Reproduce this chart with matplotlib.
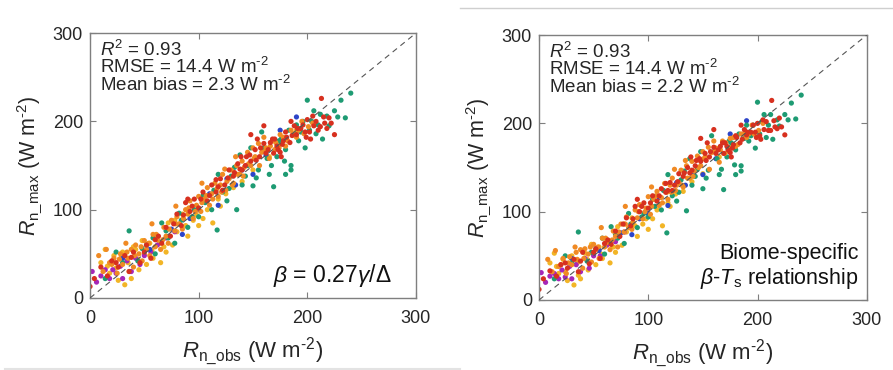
import matplotlib.pyplot as plt
from matplotlib.lines import Line2D

plt.rcParams['font.family'] = ['Liberation Sans', 'DejaVu Sans']
plt.rcParams['mathtext.fontset'] = 'custom'
plt.rcParams['mathtext.rm'] = 'Liberation Sans'
plt.rcParams['mathtext.it'] = 'Liberation Sans:italic'

# Rn_obs vs Rn_max, grouped by dot colour.
# *_a = left panel (beta = 0.27 gamma/Delta), *_b = right panel (biome-specific)
orange_obs = [8, 12, 15, 18, 22, 25, 28, 30, 33, 35, 38, 40, 42, 45, 48, 50, 52, 55, 58, 60,
              62, 65, 68, 70, 72, 75, 78, 80, 82, 85, 88, 90, 92, 95, 98, 100, 102, 105, 108, 110,
              112, 115, 118, 120, 122, 125, 128, 130, 132, 135, 138, 140, 142, 145, 148, 150, 152, 155, 158, 160,
              162, 165, 168, 170, 175, 180, 185, 190, 195, 205,
              20, 27, 34, 41, 47, 54, 61, 67, 73, 79, 86, 91, 97, 103, 107, 113, 117, 121, 126, 131,
              136, 141, 146, 151, 156, 161, 166, 171, 174, 178, 182, 187, 192, 197, 201, 134, 124, 103, 79, 57]
orange_max_a = [48, 30, 55, 40, 45, 28, 50, 38, 62, 45, 55, 35, 60, 50, 42, 65, 55, 48, 72, 58,
                66, 55, 80, 70, 62, 88, 76, 92, 84, 78, 100, 95, 110, 90, 105, 115, 98, 112, 125, 105,
                118, 130, 115, 128, 140, 122, 135, 145, 130, 150, 140, 155, 148, 165, 150, 170, 160, 175, 165, 182,
                170, 158, 178, 168, 185, 172, 190, 182, 200, 198,
                38, 44, 52, 48, 58, 62, 72, 66, 78, 84, 90, 102, 98, 108, 116, 112, 124, 120, 132, 128,
                140, 138, 152, 158, 150, 166, 172, 176, 170, 182, 178, 186, 190, 186, 194, 160, 146, 130, 104, 84]
orange_max_b = [46, 32, 56, 38, 47, 30, 49, 40, 60, 46, 57, 36, 58, 52, 43, 63, 57, 47, 70, 60,
                65, 57, 78, 72, 60, 86, 77, 94, 82, 80, 102, 93, 108, 92, 104, 117, 97, 114, 123, 107,
                116, 132, 114, 130, 138, 124, 133, 147, 128, 152, 138, 157, 146, 163, 152, 168, 162, 173, 167, 180,
                172, 156, 180, 166, 183, 174, 188, 184, 198, 200,
                40, 42, 54, 47, 60, 60, 70, 68, 77, 86, 88, 100, 100, 106, 118, 110, 122, 122, 130, 130,
                138, 140, 150, 160, 148, 168, 170, 178, 168, 184, 176, 188, 188, 188, 192, 158, 148, 128, 106, 82]

red_obs = [0, 4, 10, 16, 20, 26, 32, 36, 40, 46, 52, 56, 60, 66, 70, 74, 80, 84, 88, 92,
           96, 100, 104, 108, 112, 116, 120, 124, 128, 132, 136, 140, 144, 148, 152, 156, 160, 164, 168, 172,
           175, 178, 180, 184, 188, 190, 194, 198, 200, 203, 206, 210, 213, 215, 218, 222, 225, 148, 160, 176,
           24, 38, 50, 63, 77, 86, 94, 102, 110, 118, 122, 127, 133, 138, 143, 147, 153, 157, 162, 166,
           170, 173, 177, 181, 186, 191, 196, 202, 208, 212, 216, 220, 205, 199, 185, 169, 154, 139, 116, 90]
red_max_a = [13, 22, 35, 25, 42, 35, 48, 30, 52, 40, 60, 45, 66, 62, 80, 70, 95, 82, 108, 98,
             112, 102, 120, 110, 128, 120, 135, 128, 145, 138, 152, 145, 160, 155, 168, 160, 175, 168, 180, 172,
             165, 178, 188, 176, 195, 185, 192, 188, 202, 180, 195, 190, 226, 205, 192, 198, 185, 185, 195, 160,
             40, 46, 52, 70, 84, 94, 104, 112, 116, 126, 122, 136, 142, 146, 150, 162, 156, 170, 164, 176,
             180, 168, 174, 182, 184, 192, 196, 188, 200, 194, 198, 204, 206, 182, 200, 164, 180, 160, 134, 112]
red_max_b = [12, 24, 33, 27, 40, 36, 46, 32, 54, 41, 58, 47, 64, 63, 78, 72, 93, 84, 106, 100,
             110, 104, 118, 112, 126, 122, 133, 130, 143, 140, 150, 147, 158, 157, 166, 162, 173, 170, 178, 174,
             167, 176, 186, 178, 193, 187, 190, 190, 200, 182, 193, 192, 226, 203, 194, 196, 187, 183, 193, 162,
             42, 44, 54, 68, 86, 92, 106, 110, 118, 124, 124, 134, 144, 144, 152, 160, 158, 168, 166, 174,
             178, 170, 172, 184, 182, 190, 198, 186, 202, 192, 196, 206, 204, 184, 198, 166, 178, 162, 132, 114]

green_obs = [14, 24, 36, 44, 52, 60, 66, 72, 78, 84, 90, 96, 100, 106, 112, 117, 122, 126, 130, 135,
             140, 145, 150, 155, 160, 165, 169, 172, 176, 180, 185, 185, 188, 192, 196, 198, 200, 202, 206, 210,
             214, 218, 220, 228, 231, 235, 240, 138, 118, 158,
             30, 48, 58, 70, 82, 94, 104, 114, 128, 133, 143, 148, 153, 163, 167, 174, 179, 183, 190, 194,
             204, 208, 212, 225, 180]
green_max_a = [22, 52, 76, 42, 60, 50, 85, 68, 62, 88, 80, 100, 92, 108, 100, 77, 120, 110, 138, 100,
               128, 150, 127, 145, 170, 140, 126, 160, 180, 168, 150, 145, 185, 178, 200, 170, 224, 190, 212, 196,
               180, 206, 195, 205, 224, 204, 232, 162, 140, 188,
               40, 56, 68, 76, 96, 92, 116, 122, 124, 148, 138, 170, 136, 158, 150, 178, 155, 190, 196, 188,
               200, 186, 208, 212, 140]
green_max_b = [24, 50, 77, 44, 58, 52, 83, 70, 64, 86, 82, 98, 94, 106, 102, 76, 118, 112, 136, 101,
               130, 148, 126, 147, 168, 142, 125, 162, 178, 170, 152, 146, 183, 180, 198, 172, 224, 188, 210, 198,
               182, 204, 197, 204, 223, 205, 232, 160, 142, 186,
               42, 54, 70, 74, 98, 94, 114, 124, 122, 146, 140, 168, 138, 160, 148, 180, 153, 188, 198, 186,
               202, 184, 210, 210, 142]

yellow_obs = [10, 14, 18, 22, 26, 30, 32, 35, 38, 42, 45, 48, 52, 55, 58, 62, 65, 68, 72, 76,
              80, 85, 90, 95, 100, 108, 113, 118, 125, 132, 140, 150, 165, 175, 190,
              16, 24, 29, 36, 40, 44, 50, 57, 64, 70, 78, 88, 98, 104, 120]
yellow_max_a = [40, 55, 28, 48, 20, 52, 15, 40, 22, 55, 32, 65, 38, 62, 45, 70, 40, 58, 85, 60,
                75, 95, 70, 88, 82, 100, 85, 112, 118, 125, 132, 145, 160, 175, 190,
                36, 34, 46, 30, 58, 44, 50, 54, 62, 52, 88, 82, 94, 90, 104]
yellow_max_b = [42, 53, 30, 46, 22, 50, 17, 42, 24, 53, 34, 63, 40, 60, 47, 68, 42, 60, 83, 62,
                77, 93, 72, 86, 80, 102, 84, 110, 120, 123, 134, 143, 162, 173, 188,
                38, 32, 48, 28, 56, 46, 52, 52, 64, 54, 86, 84, 92, 92, 106]

purple_obs = [2, 6, 10, 14, 18, 21, 24, 28, 30, 34, 38, 42, 46, 50, 56, 62, 70, 78]
purple_max_a = [30, 18, 25, 32, 22, 32, 28, 36, 22, 42, 30, 45, 38, 48, 52, 60, 68, 75]
purple_max_b = [31, 20, 27, 30, 24, 34, 26, 38, 24, 40, 32, 47, 36, 50, 50, 62, 66, 77]

blue_obs = [30, 55, 75, 85, 92, 100, 110, 118, 126, 134, 140, 150, 162, 175, 190]
blue_max_a = [45, 55, 78, 72, 90, 100, 118, 105, 135, 128, 145, 140, 162, 190, 205]
blue_max_b = [47, 56, 76, 74, 92, 98, 116, 107, 133, 130, 143, 142, 160, 188, 203]

groups = [
    ('#f2b526', yellow_obs, yellow_max_a, yellow_max_b),
    ('#a626b8', purple_obs, purple_max_a, purple_max_b),
    ('#2d45c8', blue_obs, blue_max_a, blue_max_b),
    ('#1e9b73', green_obs, green_max_a, green_max_b),
    ('#f08a24', orange_obs, orange_max_a, orange_max_b),
    ('#d7301f', red_obs, red_max_a, red_max_b),
]

stats_a = ['0.93', '14.4', '2.3']
stats_b = ['0.93', '14.4', '2.2']

WM2 = r'W m$^{\text{-2}}$'


def panel(ax, which, stats):
    for col, xs, ya, yb in groups:
        ys = ya if which == 0 else yb
        ax.scatter(xs, ys, s=14, color=col, edgecolors='none', zorder=2)
    ax.plot([0, 300], [0, 300], ls=(0, (5, 4)), color='#555555', lw=0.8, zorder=3)
    ax.set_xlim(0, 300)
    ax.set_ylim(0, 300)
    ax.set_xticks([0, 100, 200, 300])
    ax.set_yticks([0, 100, 200, 300])
    ax.tick_params(direction='in', length=4, width=0.8, top=True, right=True,
                   labelsize=13, colors='#7f7f7f', labelcolor='#262626')
    ax.tick_params(axis='x', pad=9)
    ax.tick_params(axis='y', pad=5)
    for sp in ax.spines.values():
        sp.set_color('#7f7f7f')
        sp.set_linewidth(1.0)
    ax.set_xlabel(r'$R_{\mathregular{n\_obs}}$ (' + WM2 + ')', fontsize=16,
                  color='#262626', labelpad=6)
    ax.set_ylabel(r'$R_{\mathregular{n\_max}}$ (' + WM2 + ')', fontsize=15.5,
                  color='#262626', labelpad=6)
    lines = [r'$R^{\mathregular{2}}$ = ' + stats[0],
             'RMSE = ' + stats[1] + ' ' + WM2,
             'Mean bias = ' + stats[2] + ' ' + WM2]
    ax.text(0.03, 0.975, '\n'.join(lines), transform=ax.transAxes, fontsize=13.5,
            color='#262626', va='top', ha='left', linespacing=0.84)


fig = plt.figure(figsize=(8.93, 3.70), dpi=100)
ax1 = fig.add_axes([0.1008, 0.1946, 0.365, 0.716])
ax2 = fig.add_axes([0.6036, 0.1892, 0.367, 0.716])
panel(ax1, 0, stats_a)
panel(ax2, 1, stats_b)

ax1.text(0.925, 0.06, r'$\beta$ = 0.27$\gamma$/$\Delta$', transform=ax1.transAxes,
         fontsize=16.5, ha='right', va='baseline', color='#111111')
ax2.text(0.975, 0.06, 'Biome-specific\n' + r'$\beta$-$T_{\mathregular{s}}$ relationship',
         transform=ax2.transAxes, fontsize=15.5, ha='right', va='baseline',
         color='#111111', linespacing=1.1, multialignment='right')

# faint page edges visible in the source image
fig.add_artist(Line2D([460 / 893, 1.0], [1 - 8 / 370] * 2, color='#cfcfcf', lw=1))
fig.add_artist(Line2D([5 / 893, 460 / 893], [1 - 369 / 370] * 2, color='#e3e3e3', lw=1.5))

fig.savefig('out.png', dpi=100)
